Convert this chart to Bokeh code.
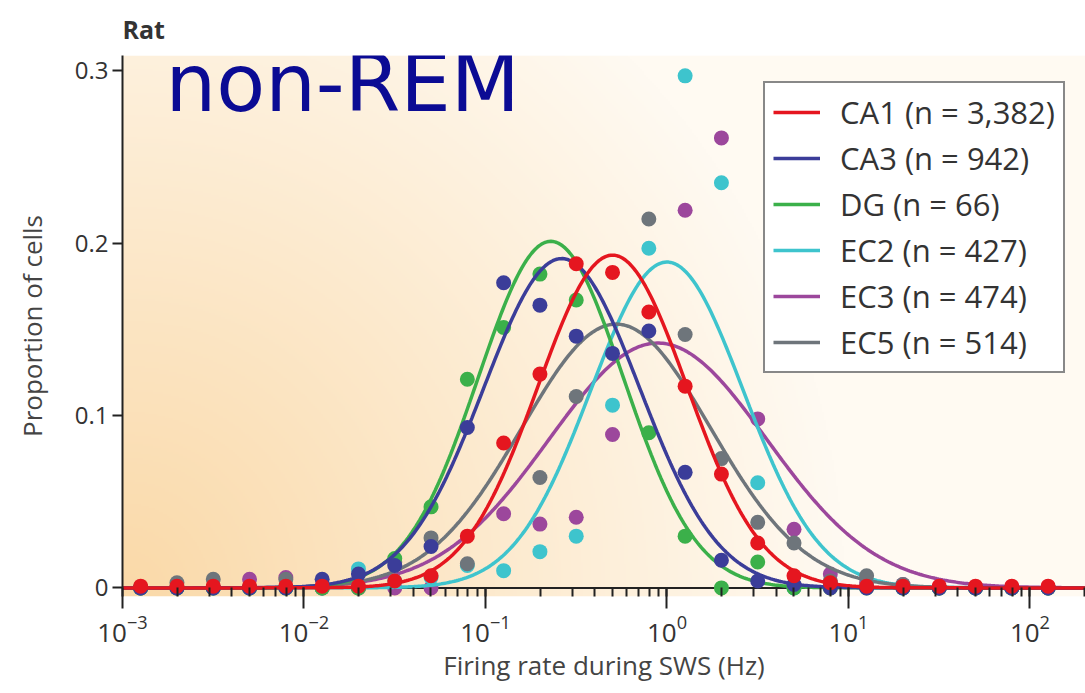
import numpy as np
from bokeh.plotting import figure
from bokeh.models import Range1d, Legend, LegendItem, Label, FixedTicker, Span
from bokeh.embed import file_html
from bokeh.resources import INLINE

nan = float("nan")

# ---- data -------------------------------------------------------------
# bin centres, log10(firing rate in Hz)
log_rate = [-2.9, -2.7, -2.5, -2.3, -2.1, -1.9, -1.7, -1.5, -1.3, -1.1,
            -0.9, -0.7, -0.5, -0.3, -0.1, 0.1, 0.3, 0.5, 0.7, 0.9,
            1.1, 1.3, 1.5, 1.7, 1.9, 2.1]

ca1 = [0.001, 0.001, 0.001, 0.001, 0.001, 0.001, 0.001, 0.004, 0.007, 0.030,
       0.084, 0.124, 0.188, 0.183, 0.160, 0.117, 0.066, 0.026, 0.007, 0.003,
       0.001, 0.001, 0.001, 0.001, 0.001, 0.001]
ca3 = [0.0, 0.0, 0.0, 0.0, 0.0, 0.005, 0.008, 0.013, 0.024, 0.093,
       0.177, 0.164, 0.146, 0.136, 0.149, 0.067, 0.016, 0.004, 0.002, 0.0,
       0.0, 0.0, 0.0, 0.0, 0.0, 0.0]
dg = [0.0, 0.0, 0.0, 0.0, 0.0, 0.0, 0.0, 0.017, 0.047, 0.121,
      0.151, 0.182, 0.167, nan, 0.090, 0.030, 0.0, 0.015, 0.0, 0.0,
      0.0, 0.0, 0.0, 0.0, 0.0, 0.0]
ec2 = [0.0, 0.0, 0.0, 0.0, 0.0, 0.0, 0.011, 0.004, 0.006, 0.013,
       0.010, 0.021, 0.030, 0.106, 0.197, 0.297, 0.235, 0.061, 0.0, 0.003,
       0.001, 0.0, 0.0, 0.0, 0.0, 0.0]
ec3 = [0.0, 0.0, 0.0, 0.005, 0.006, 0.0, 0.0, 0.0, 0.0, nan,
       0.043, 0.037, 0.041, 0.089, nan, 0.219, 0.261, 0.098, 0.034, 0.008,
       0.003, 0.002, 0.0, 0.0, 0.0, 0.0]
ec5 = [0.0, 0.003, 0.005, 0.0, 0.005, 0.0, 0.0, 0.015, 0.029, 0.014,
       nan, 0.064, 0.111, nan, 0.214, 0.147, 0.075, 0.038, 0.026, 0.004,
       0.007, 0.002, 0.0, 0.0, 0.0, 0.0]

names = ["CA1", "CA3", "DG", "EC2", "EC3", "EC5"]
labels = ["CA1 (n = 3,382)", "CA3 (n = 942)", "DG (n = 66)",
          "EC2 (n = 427)", "EC3 (n = 474)", "EC5 (n = 514)"]
values = [ca1, ca3, dg, ec2, ec3, ec5]
colors = ["#e5161f", "#3b3d99", "#3bb04a", "#3ec4cd", "#9c479c", "#6e757b"]

# log-normal fits: centre (log10 Hz), width (decades), peak
fit_mu = [-0.30, -0.58, -0.64, 0.00, -0.05, -0.28]
fit_sigma = [0.41, 0.43, 0.40, 0.42, 0.60, 0.52]
fit_peak = [0.193, 0.191, 0.201, 0.189, 0.142, 0.153]

y_ticks = [0, 0.1, 0.2, 0.3]

# ---- figure -----------------------------------------------------------
X_START, X_END = 1e-3, 10 ** 2.306
Y_START, Y_END = -0.005, 0.3088

p = figure(width=1085, height=693, x_axis_type="log",
           x_range=Range1d(X_START, X_END), y_range=Range1d(Y_START, Y_END),
           output_backend="svg", toolbar_location=None,
           min_border_left=122, min_border_right=0,
           min_border_top=55, min_border_bottom=97)
p.outline_line_color = None
p.grid.visible = False
p.background_fill_color = "white"
p.border_fill_color = "white"

p.title.text = "Rat"
p.title.align = "left"
p.title.text_font = "Open Sans"
p.title.text_font_style = "bold"
p.title.text_font_size = "25px"
p.title.text_color = "#333333"
p.title.standoff = 19

# background gradient (orange at lower-left, cream to the right)
H, W = 271, 482
u = np.linspace(0, 1, W)[None, :]
v = np.linspace(0, 1, H)[:, None]
t = np.clip(np.sqrt((u / 0.75) ** 2 + (v / 1.4) ** 2), 0, 1)
c0 = [250, 217, 168]
c1 = [255, 250, 242]
img = np.empty((H, W), dtype=np.uint32)
view = img.view(dtype=np.uint8).reshape((H, W, 4))
for i in range(3):
    view[:, :, i] = (c0[i] + (c1[i] - c0[i]) * t).astype(np.uint8)
view[:, :, 3] = 255
p.image_rgba(image=[img], x=X_START, y=Y_START,
             dw=X_END - X_START, dh=Y_END - Y_START, level="image")

# x axis line at y = 0
p.add_layout(Span(location=0, dimension="width", line_color="#222222",
                  line_width=2, level="underlay"))

# curves + points
xs_log = np.linspace(np.log10(X_START), np.log10(X_END), 500)
xs = 10 ** xs_log
order = [4, 3, 5, 2, 1, 0]
line_r = {}
for i in order:
    ys = fit_peak[i] * np.exp(-(xs_log - fit_mu[i]) ** 2 / (2 * fit_sigma[i] ** 2))
    line_r[i] = p.line(xs, ys, line_color=colors[i], line_width=3.5)
    px = [10 ** lr for lr in log_rate]
    p.scatter(px, values[i], size=15, fill_color=colors[i],
              line_color=None, fill_alpha=1.0)

# axes
xa = p.xaxis[0]
xa.axis_line_color = None
xa.major_tick_line_color = "#222222"
xa.major_tick_line_width = 2
xa.major_tick_out = 12
xa.major_tick_in = 9
xa.minor_tick_line_color = "#222222"
xa.minor_tick_line_width = 2
xa.minor_tick_out = 0
xa.minor_tick_in = 9
xa.major_label_text_font = "Open Sans"
xa.major_label_text_font_size = "26px"
xa.major_label_text_color = "#333333"
xa.major_label_standoff = 6
xa.axis_label = "Firing rate during SWS (Hz)"
xa.axis_label_text_font = "Open Sans"
xa.axis_label_text_font_size = "26px"
xa.axis_label_text_font_style = "normal"
xa.axis_label_text_color = "#444444"
xa.axis_label_standoff = 2

ya = p.yaxis[0]
ya.bounds = (0, Y_END)
ya.ticker = FixedTicker(ticks=y_ticks)
ya.major_label_overrides = {0: "0", 0.1: "0.1", 0.2: "0.2", 0.3: "0.3"}
ya.axis_line_color = "#222222"
ya.axis_line_width = 2
ya.major_tick_line_color = "#222222"
ya.major_tick_line_width = 2
ya.major_tick_out = 10
ya.major_tick_in = 0
ya.minor_tick_line_color = None
ya.major_label_text_font = "Open Sans"
ya.major_label_text_font_size = "24px"
ya.major_label_text_color = "#333333"
ya.major_label_standoff = 4
ya.axis_label = "Proportion of cells"
ya.axis_label_text_font = "Open Sans"
ya.axis_label_text_font_size = "26px"
ya.axis_label_text_font_style = "normal"
ya.axis_label_text_color = "#444444"
ya.axis_label_standoff = 22

# "non-REM" annotation (screen units from frame bottom-left)
p.add_layout(Label(x=43, y=513, x_units="screen", y_units="screen",
                   text="non-REM", text_font="DejaVu Sans",
                   text_font_size="80px", text_color="#0b0b94",
                   text_align="left", text_baseline="alphabetic"))

legend = Legend(items=[LegendItem(label=labels[i], renderers=[line_r[i]]) for i in range(6)],
                location=(641, 223))
legend.border_line_color = "#111111"
legend.border_line_width = 2
legend.background_fill_color = "white"
legend.background_fill_alpha = 1.0
legend.label_text_font = "Open Sans"
legend.label_text_font_size = "31px"
legend.label_text_color = "#333333"
legend.glyph_width = 47
legend.glyph_height = 30
legend.label_height = 30
legend.spacing = 4
legend.padding = 8
legend.label_standoff = 20
legend.margin = 0
p.add_layout(legend)

open("out.html", "w").write(file_html(p, INLINE))
